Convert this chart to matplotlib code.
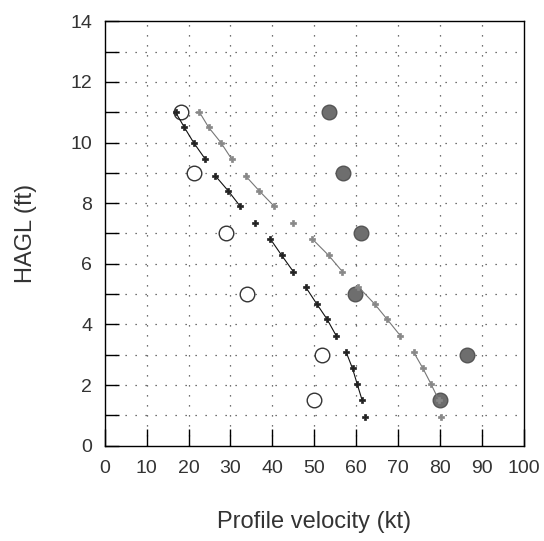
import matplotlib
matplotlib.use("Agg")
import matplotlib.pyplot as plt
import numpy as np

plt.rcParams['font.family'] = ['Liberation Sans', 'DejaVu Sans']

# Profile series (HAGL ft vs velocity kt)
heights = [11.0, 10.5, 10.0, 9.45, 8.9, 8.4, 7.9, 7.35, 6.82, 6.28,
           5.74, 5.24, 4.67, 4.18, 3.63, 3.08, 2.55, 2.04, 1.5, 0.96]
black_vel = [16.9, 19.0, 21.2, 24.0, 26.4, 29.5, 32.3, 35.8, 39.5, 42.2,
             45.0, 47.9, 50.6, 53.0, 55.2, 57.6, 59.1, 60.2, 61.4, 62.1]
gray_vel = [22.6, 24.8, 27.7, 30.3, 33.6, 36.9, 40.4, 44.9, 49.5, 53.4,
            56.7, 60.5, 64.4, 67.3, 70.5, 73.7, 75.9, 77.8, 79.7, 80.3]
segment_id = [0, 0, 0, 0, 1, 1, 1, 2, 3, 3, 3, 4, 4, 4, 4, 5, 5, 5, 5, 6]

# Point measurements
level_heights = [11, 9, 7, 5, 3, 1.5]
open_vel = [18.3, 21.2, 28.9, 33.9, 51.9, 50.0]
filled_vel = [53.6, 56.8, 61.1, 59.7, 86.3, 79.9]

x_ticks = list(range(0, 101, 10))
y_ticks = list(range(0, 15, 2))

fig = plt.figure(figsize=(5.44, 5.41), dpi=100)
ax = fig.add_axes([0.1925, 0.1762, 0.7707, 0.7844])

ax.set_xlim(0, 100)
ax.set_ylim(0, 14)

# grid
for xv in x_ticks[1:-1]:
    ax.axvline(xv, color='#444444', lw=0.9, ls=(0, (1, 7)), zorder=1)
for yv in range(1, 14):
    ax.axhline(yv, color='#444444', lw=0.9, ls=(0, (1, 7)), zorder=1)

# filled & open circles
ax.plot(filled_vel, level_heights, 'o', ms=10.5, mfc='#6e6e6e', mec='#555555',
        mew=1.0, ls='none', zorder=3)
ax.plot(open_vel, level_heights, 'o', ms=10.5, mfc='white', mec='#333333',
        mew=1.0, ls='none', zorder=3)

seg = np.array(segment_id)
hv = np.array(heights)
for vel, col, mcol in [(black_vel, '#111111', '#222222'), (gray_vel, '#777777', '#888888')]:
    v = np.array(vel)
    for s in np.unique(seg):
        m = seg == s
        ax.plot(v[m], hv[m], '-', color=col, lw=0.8, zorder=4)
    ax.plot(v, hv, 'P', ms=5, mfc=mcol, mec=mcol, mew=0.5, ls='none', zorder=5)

ax.set_xticks(x_ticks)
ax.set_yticks(y_ticks)
ax.set_yticks(range(0, 15), minor=True)
ax.tick_params(axis='x', direction='in', length=12, width=1.0, pad=10,
               labelsize=14, colors='black', labelcolor='#333333')
ax.tick_params(axis='y', which='both', direction='in', length=10, width=1.0, pad=9,
               labelsize=14, colors='black', labelcolor='#333333')
for sp in ax.spines.values():
    sp.set_color('black')
    sp.set_linewidth(1.0)

ax.set_xlabel('Profile velocity (kt)', fontsize=17, color='#333333', labelpad=25)
ax.set_ylabel('HAGL (ft)', fontsize=17, color='#333333', labelpad=24)

fig.savefig('out.png', dpi=100)
